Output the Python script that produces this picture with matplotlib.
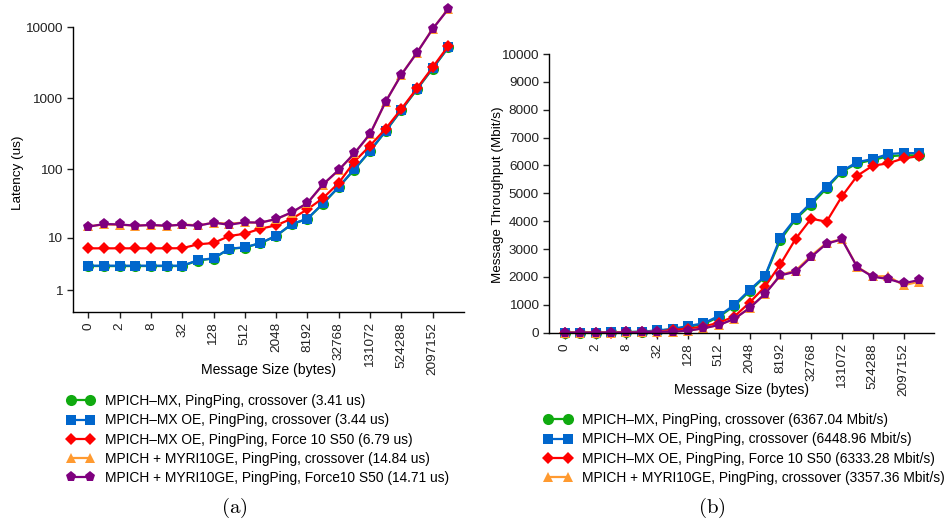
import numpy as np
import matplotlib
matplotlib.use("Agg")
import matplotlib.pyplot as plt

plt.rcParams["font.family"] = ["Liberation Sans", "DejaVu Sans"]
plt.rcParams["mathtext.fontset"] = "cm"

# message sizes 0, 1, 2, 4, ... 4194304 bytes
sizes = [0] + [2 ** k for k in range(23)]
tick_idx = list(range(0, 24, 2))
tick_labels = [str(sizes[i]) for i in tick_idx]

# latency (us)
lat_mx = [3.39, 3.39, 3.38, 3.39, 3.39, 3.39, 3.39, 4.25, 4.6, 6.65, 7.0, 8.2, 10.6,
          16.0, 19.2, 32.0, 55.5, 99, 180, 345, 680, 1340, 2620, 5200]
lat_mx_oe = [3.44, 3.44, 3.44, 3.44, 3.44, 3.44, 3.44, 4.3, 4.65, 6.7, 7.05, 8.25, 10.7,
             16.1, 19.3, 32.5, 56, 100, 182, 348, 687, 1355, 2650, 5230]
lat_mx_f10 = [6.79, 6.79, 6.79, 6.79, 6.79, 6.79, 6.82, 7.87, 8.25, 10.6, 11.5, 13.7, 15.4,
              19.3, 26.5, 38.7, 63.6, 128, 215, 374, 709, 1385, 2735, 5455]
lat_myri = [14.84, 15.9, 15.7, 15.3, 15.5, 15.1, 15.9, 15.4, 16.8, 16.3, 17.0, 16.9, 19.0,
            23.8, 32.6, 60.5, 97, 167, 313, 900, 2160, 4400, 9500, 18150]
lat_myri_f10 = [14.71, 16.1, 15.9, 15.2, 15.6, 15.2, 15.7, 15.2, 16.9, 15.7, 17.1, 16.9, 19.1,
                24.0, 32.8, 61, 97.4, 168, 315, 898, 2150, 4390, 9460, 18070]

# throughput (Mbit/s)
thr_mx = [0, 2, 5, 9, 19, 37, 75, 120, 215, 300, 565, 957, 1483,
          2010, 3325, 4080, 4593, 5180, 5778, 6077, 6196, 6330, 6367, 6360]
thr_mx_oe = [0, 2, 5, 9, 19, 38, 80, 135, 240, 335, 598, 993, 1531,
             2033, 3409, 4115, 4665, 5239, 5801, 6124, 6232, 6411, 6448.96, 6440]
thr_mx_f10 = [0, 1, 2, 5, 10, 20, 40, 96, 145, 215, 360, 575, 1077,
              1650, 2452, 3373, 4091, 3983, 4892, 5634, 5993, 6077, 6256, 6333.28]
thr_myri = [0, 1, 2, 4, 8, 17, 34, 38, 75, 160, 280, 495, 890,
            1395, 2070, 2230, 2760, 3220, 3357.36, 2360, 2020, 2030, 1700, 1830]
thr_myri_f10 = [0, 1, 2, 4, 8, 17, 34, 36, 72, 155, 275, 490, 885,
                1388, 2057, 2189, 2715, 3194, 3349, 2344, 2010, 1926, 1770, 1890]

lat_names = [
    "MPICH\u2013MX, PingPing, crossover (3.41 us)",
    "MPICH\u2013MX OE, PingPing, crossover (3.44 us)",
    "MPICH\u2013MX OE, PingPing, Force 10 S50 (6.79 us)",
    "MPICH + MYRI10GE, PingPing, crossover (14.84 us)",
    "MPICH + MYRI10GE, PingPing, Force10 S50 (14.71 us)",
]
thr_names = [
    "MPICH\u2013MX, PingPing, crossover (6367.04 Mbit/s)",
    "MPICH\u2013MX OE, PingPing, crossover (6448.96 Mbit/s)",
    "MPICH\u2013MX OE, PingPing, Force 10 S50 (6333.28 Mbit/s)",
    "MPICH + MYRI10GE, PingPing, crossover (3357.36 Mbit/s)",
]

colors = ["#10aa10", "#0066cc", "#ff0000", "#ff9a30", "#7f007f"]
markers = ["o", "s", "D", "^", "p"]
msizes = [8, 7, 6.5, 7, 8]

FS = 9.7
fig = plt.figure(figsize=(9.45, 5.27), dpi=100)
ax1 = fig.add_axes([0.0769, 0.4085, 0.414, 0.5397])
ax2 = fig.add_axes([0.5813, 0.3687, 0.4074, 0.5288])

x = np.arange(len(sizes))


def style(ax):
    for s in ("top", "right"):
        ax.spines[s].set_visible(False)
    for s in ("left", "bottom"):
        ax.spines[s].set_linewidth(1.0)
    ax.set_xlim(-1, 24)
    ax.set_xticks(tick_idx)
    ax.set_xticklabels(tick_labels, rotation=90)
    ax.tick_params(direction="out", length=4, width=1, labelsize=FS, colors="#222222")
    ax.xaxis.label.set_va("center")
    ax.yaxis.label.set_va("center")


lat_series = [lat_mx, lat_mx_oe, lat_mx_f10, lat_myri, lat_myri_f10]
lat_lines = []
for ys, c, m, ms, name in zip(lat_series, colors, markers, msizes, lat_names):
    ln, = ax1.plot(x, ys, color=c, marker=m, markersize=ms, lw=1.6,
                   markeredgewidth=0, label=name, clip_on=False)
    lat_lines.append(ln)

ax1.set_yscale("function", functions=(lambda v: np.log10(np.maximum(v, 0) + 1),
                                       lambda v: 10 ** v - 1))
ax1.set_ylim(0, 10000)
ax1.set_yticks([1, 10, 100, 1000, 10000])
ax1.set_yticklabels(["1", "10", "100", "1000", "10000"])
ax1.yaxis.set_minor_locator(matplotlib.ticker.NullLocator())
style(ax1)
ax1.set_xlabel("Message Size (bytes)", fontsize=FS + 0.4)
ax1.set_ylabel("Latency (us)", fontsize=FS)
ax1.xaxis.set_label_coords(0.5, -0.205)
ax1.yaxis.set_label_coords(-0.14, 0.49)

thr_series = [thr_mx, thr_mx_oe, thr_mx_f10, thr_myri, thr_myri_f10]
thr_lines = []
for ys, c, m, ms in zip(thr_series, colors, markers, msizes):
    ln, = ax2.plot(x, ys, color=c, marker=m, markersize=ms, lw=1.6,
                   markeredgewidth=0, clip_on=False)
    thr_lines.append(ln)

ax2.set_ylim(0, 10000)
ax2.set_yticks(range(0, 10001, 1000))
style(ax2)
ax2.set_xlabel("Message Size (bytes)", fontsize=FS + 0.4)
ax2.set_ylabel("Message Throughput (Mbit/s)", fontsize=FS)
ax2.xaxis.set_label_coords(0.5, -0.206)
ax2.yaxis.set_label_coords(-0.133, 0.494)

leg_kw = dict(frameon=False, numpoints=2, fontsize=9.95, borderpad=0, borderaxespad=0,
              handlelength=2.0, handletextpad=0.75, labelspacing=0.38,
              loc="upper left")
fig.legend(lat_lines, lat_names, bbox_to_anchor=(0.0706, 0.252),
           bbox_transform=fig.transFigure, **leg_kw)
fig.legend(thr_lines[:4], thr_names, bbox_to_anchor=(0.5757, 0.216),
           bbox_transform=fig.transFigure, **leg_kw)

fig.text(234 / 945, 1 - 508 / 527, r"$(\mathrm{a})$", ha="center", va="center", fontsize=15)
fig.text(712 / 945, 1 - 508 / 527, r"$(\mathrm{b})$", ha="center", va="center", fontsize=15)

fig.savefig("out.png", dpi=100)
